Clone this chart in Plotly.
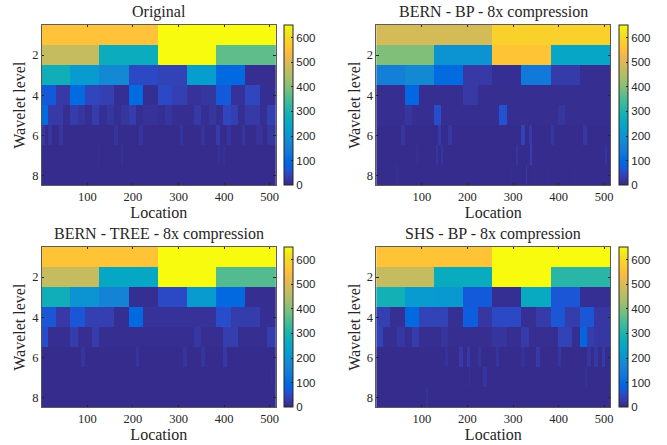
import plotly.graph_objects as go

# Each panel: dense lists for levels 1-5, sparse {cell index: value} for levels 6-8 (others = baseline)
orig_l1 = [555, 650]
orig_l2 = [470, 270, 650, 365]
orig_l3 = [280, 215, 175, 50, 40, 225, 95, 8]
orig_l4 = [70, 25, 100, 45, 35, 10, 100, 10, 50, 35, 15, 20, 70, 15, 45, 10]
orig_l5 = [100, 25, 25, 8, 30, 20, 10, 30, 10, 20, 10, 20, 30, 10, 15, 15,
           10, 20, 8, 8, 8, 25, 10, 20, 10, 45, 35, 8, 25, 25, 10, 35]
orig_l6 = {0: 22, 2: 20, 5: 20, 20: 18, 27: 18, 38: 18, 44: 16, 48: 28, 51: 18, 55: 18, 59: 16, 60: 16, 62: 20, 63: 20}
orig_l7 = {31: 13, 44: 13, 97: 13, 100: 13}
orig_l8 = {}

bp_l1 = [490, 585]
bp_l2 = [395, 195, 560, 245]
bp_l3 = [150, 175, 100, 25, 10, 135, 28, 8]
bp_l4 = [8, 8, 90, 8, 8, 8, 25, 8, 8, 8, 8, 8, 8, 8, 8, 8]
bp_l5 = [8, 8, 8, 8, 20, 8, 8, 8, 55, 8, 8, 8, 8, 8, 8, 8,
         8, 60, 8, 8, 8, 8, 8, 8, 8, 20, 8, 8, 8, 8, 8, 8]
bp_l6 = {7: 20, 17: 25, 20: 22, 40: 40, 42: 25, 48: 20, 57: 22}
bp_l7 = {22: 12, 33: 18, 36: 18, 77: 20, 85: 35, 126: 18}
bp_l8 = {11: 10, 22: 11, 24: 11, 149: 10, 165: 25, 174: 10, 188: 11, 218: 11, 240: 10}

tree_l1 = [560, 650]
tree_l2 = [470, 250, 650, 355]
tree_l3 = [280, 195, 160, 10, 50, 215, 95, 8]
tree_l4 = [65, 25, 65, 35, 35, 10, 95, 15, 15, 15, 15, 15, 55, 30, 30, 10]
tree_l5 = [55, 8, 8, 8, 30, 8, 8, 30, 8, 8, 8, 8, 8, 8, 8, 8,
           8, 8, 8, 8, 8, 22, 8, 8, 8, 32, 32, 8, 8, 8, 8, 32]
tree_l6 = {11: 18, 26: 18, 39: 18, 44: 18, 50: 22}
tree_l7 = {126: 12}
tree_l8 = {101: 10}

shs_l1 = [560, 650]
shs_l2 = [470, 265, 650, 315]
shs_l3 = [285, 215, 210, 70, 10, 260, 65, 10]
shs_l4 = [35, 12, 95, 40, 40, 12, 75, 22, 50, 50, 12, 28, 65, 30, 65, 22]
shs_l5 = [40, 8, 8, 22, 8, 30, 8, 8, 8, 18, 8, 8, 8, 8, 8, 8,
          18, 18, 8, 8, 28, 8, 8, 8, 8, 40, 40, 8, 90, 30, 22, 22]
shs_l6 = {19: 15, 23: 25, 25: 25, 28: 18, 33: 18, 40: 15, 44: 25, 50: 20, 58: 20, 60: 22, 62: 25}
shs_l7 = {51: 15, 59: 18, 60: 18, 115: 15}
shs_l8 = {55: 15, 56: 15}

panel_titles = ["Original", "BERN - BP - 8x compression",
                "BERN - TREE - 8x compression", "SHS - BP - 8x compression"]
x_ticks = [100, 200, 300, 400, 500]
y_ticks = [2, 4, 6, 8]
cbar_ticks = [0, 100, 200, 300, 400, 500, 600]
BASELINE = 5

parula = ["#352a87", "#362f93", "#3636a0", "#353dad", "#3244ba", "#2b4ac7", "#2053d4", "#0f5cdd",
          "#0363e1", "#0268e1", "#046de0", "#0871de", "#0d75dc", "#1079da", "#127dd8", "#1481d6",
          "#1485d4", "#1389d3", "#108ed2", "#0c93d2", "#0998d1", "#079ccf", "#06a0cd", "#06a4ca",
          "#06a7c6", "#07a9c2", "#0aacbe", "#0faeb9", "#15b1b4", "#1db3af", "#25b5a9", "#2eb7a4",
          "#38b99e", "#42bb98", "#4dbc92", "#59bd8c", "#65be86", "#71bf80", "#7cbf7b", "#87bf77",
          "#92bf73", "#9cbf6f", "#a5be6b", "#aebe67", "#b7bd64", "#c0bc60", "#c8bc5d", "#d1bb59",
          "#d9ba56", "#e1b952", "#e9b94e", "#f1b94a", "#f8ba44", "#fdbe3d", "#ffc337", "#fec832",
          "#fccd2d", "#f9d329", "#f7d825", "#f5de21", "#f4e41d", "#f5eb18", "#f6f313", "#f9fb0e"]
colorscale = [[i / 63, c] for i, c in enumerate(parula)]

panels = [
    (orig_l1, orig_l2, orig_l3, orig_l4, orig_l5, orig_l6, orig_l7, orig_l8),
    (bp_l1, bp_l2, bp_l3, bp_l4, bp_l5, bp_l6, bp_l7, bp_l8),
    (tree_l1, tree_l2, tree_l3, tree_l4, tree_l5, tree_l6, tree_l7, tree_l8),
    (shs_l1, shs_l2, shs_l3, shs_l4, shs_l5, shs_l6, shs_l7, shs_l8),
]


def expand(levels):
    rows = []
    for lev, vals in enumerate(levels):
        n = 2 ** (lev + 1)
        if isinstance(vals, dict):
            vals = [vals.get(i, BASELINE) for i in range(n)]
        width = 256 // n
        rows.append([vals[min(k // width, n - 1)] for k in range(258)])
    return rows


W, H = 667, 445
lefts = [41.8, 376.3]
plot_w = 234.0
tops = [25.0, 247.0]
plot_h = 160.3
cb_lefts = [284.3, 618.5]
cb_w = 9
SERIF = "Liberation Serif"
DARK = "#262626"

fig = go.Figure()
annotations = []
for i, levels in enumerate(panels):
    col, row = i % 2, i // 2
    suffix = "" if i == 0 else str(i + 1)
    x0, y0 = lefts[col], tops[row]
    fig.add_trace(go.Heatmap(
        z=expand(levels), x0=-0.5, dx=2, y0=1, dy=1,
        xaxis="x" + suffix, yaxis="y" + suffix,
        zmin=0, zmax=650, colorscale=colorscale, hoverinfo="skip",
        colorbar=dict(
            x=cb_lefts[col] / W, xanchor="left", xpad=0, ypad=0,
            y=1 - (y0 + plot_h) / H, yanchor="bottom",
            len=plot_h / H, lenmode="fraction",
            thickness=cb_w, thicknessmode="pixels",
            tickvals=cbar_ticks, ticks="inside", ticklen=2, tickcolor=DARK, tickwidth=1,
            tickfont=dict(family="Liberation Sans", size=11.5, color=DARK),
            outlinecolor=DARK, outlinewidth=1,
        ),
    ))
    axis_common = dict(
        showgrid=False, zeroline=False, showline=True, mirror="allticks",
        linecolor="rgba(38,38,38,0.75)", linewidth=0.8,
        ticks="inside", ticklen=2.5, tickwidth=0.8, tickcolor=DARK,
        tickfont=dict(family=SERIF, size=12.5, color=DARK),
    )
    fig.update_layout({
        "xaxis" + suffix: dict(
            domain=[x0 / W, (x0 + plot_w) / W], range=[0, 513.5], anchor="y" + suffix,
            tickvals=x_ticks,
            title=dict(text="Location", standoff=1,
                       font=dict(family=SERIF, size=16, color=DARK)),
            **axis_common),
        "yaxis" + suffix: dict(
            domain=[1 - (y0 + plot_h) / H, 1 - y0 / H], range=[8.5, 0.5], anchor="x" + suffix,
            tickvals=y_ticks,
            title=dict(text="Wavelet level", standoff=2,
                       font=dict(family=SERIF, size=16, color=DARK)),
            **axis_common),
    })
    annotations.append(dict(
        text=panel_titles[i], xref="paper", yref="paper",
        x=(x0 + plot_w / 2) / W, y=1 - (y0 - 12.7) / H,
        xanchor="center", yanchor="middle", showarrow=False,
        font=dict(family=SERIF, size=16, color=DARK),
    ))

fig.update_layout(
    width=W, height=H, margin=dict(l=0, r=0, t=0, b=0, autoexpand=False),
    paper_bgcolor="white", plot_bgcolor="white",
    annotations=annotations,
)
fig.write_html("out.html", config={"displayModeBar": False},
               post_script="document.body.style.margin='0';")
